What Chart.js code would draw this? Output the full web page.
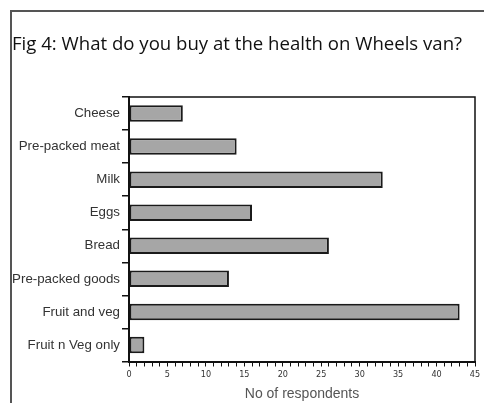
<!DOCTYPE html>
<html>
<head>
<meta charset="utf-8">
<script src="https://cdn.jsdelivr.net/npm/chart.js@4"></script>
<style>
html,body{margin:0;padding:0;background:#fff;}
#wrap{width:484px;height:403px;position:relative;}
</style>
</head>
<body>
<div id="wrap"><canvas id="c" width="484" height="403"></canvas></div>
<script>
const titleText = "Fig 4: What do you buy at the health on Wheels van?";
const categories = ["Cheese","Pre-packed meat","Milk","Eggs","Bread","Pre-packed goods","Fruit and veg","Fruit n Veg only"];
const respondents = [7,14,33,16,26,13,43,2];
const axisTitle = "No of respondents";
const xMin = 0, xMax = 45, xLabelStep = 5;

const framePlugin = {
  id: 'frame',
  afterDraw(chart){
    const ctx = chart.ctx;
    const a = chart.chartArea;
    ctx.save();
    ctx.strokeStyle = '#555';
    ctx.lineWidth = 2;
    ctx.beginPath();
    ctx.moveTo(11, 403);
    ctx.lineTo(11, 11);
    ctx.lineTo(484, 11);
    ctx.stroke();
    ctx.strokeStyle = '#111';
    ctx.lineWidth = 1.5;
    ctx.beginPath();
    ctx.moveTo(a.left, a.top);
    ctx.lineTo(a.right, a.top);
    ctx.lineTo(a.right, a.bottom);
    ctx.stroke();
    ctx.fillStyle = '#111';
    ctx.font = '18.6px "Open Sans"';
    ctx.textBaseline = 'middle';
    ctx.textAlign = 'left';
    ctx.fillText(titleText, 12, 45);
    ctx.restore();
  }
};

new Chart(document.getElementById('c'), {
  type: 'bar',
  data: {
    labels: categories,
    datasets: [{
      data: respondents,
      backgroundColor: '#a6a6a6',
      borderColor: '#1a1a1a',
      borderWidth: 2,
      borderSkipped: false,
      barPercentage: 0.5,
      categoryPercentage: 1
    }]
  },
  options: {
    indexAxis: 'y',
    responsive: false,
    animation: false,
    layout: { padding: { top: 97, right: 9, left: 0, bottom: 0 } },
    plugins: { legend: { display: false }, tooltip: { enabled: false } },
    scales: {
      y: {
        grid: { offset: true, drawOnChartArea: false, tickLength: 7, color: '#111', lineWidth: 1.5 },
        border: { color: '#111', width: 2 },
        ticks: { color: '#333', font: { family: '"Liberation Sans"', size: 13.3 }, padding: 2 },
        afterFit(s){ s.width = 129; }
      },
      x: {
        min: xMin, max: xMax,
        grid: { drawOnChartArea: false, tickLength: 5, color: '#111', lineWidth: 1 },
        border: { color: '#111', width: 2 },
        ticks: {
          stepSize: 1, autoSkip: false, maxRotation: 0, padding: 3,
          color: '#333', font: { family: '"Liberation Sans Narrow", "DejaVu Sans Condensed"', size: 9 },
          callback: (v) => (v % xLabelStep === 0 ? String(v) : '')
        },
        title: { display: true, text: axisTitle, color: '#555', font: { family: '"Liberation Sans"', size: 14 }, padding: { top: 0, bottom: 0 } },
        afterFit(s){ s.height = 41.5; }
      }
    }
  },
  plugins: [framePlugin]
});
</script>
</body>
</html>
